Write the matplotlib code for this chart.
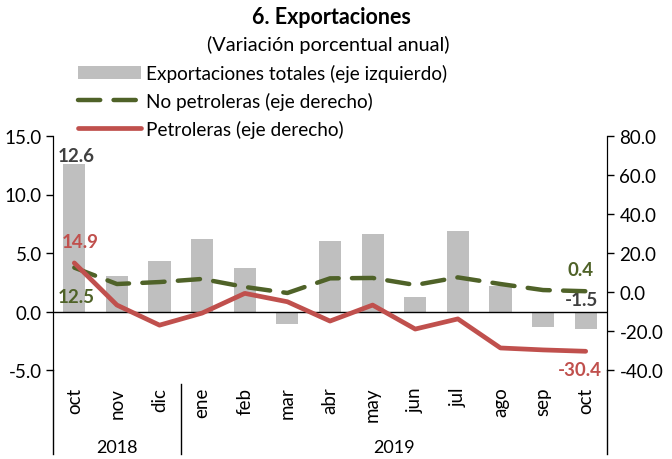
import matplotlib.pyplot as plt
from matplotlib.lines import Line2D
import numpy as np

# data
months = ["oct", "nov", "dic", "ene", "feb", "mar", "abr", "may", "jun", "jul", "ago", "sep", "oct"]
years = ["2018", "2019"]
total = [12.6, 3.0, 4.3, 6.2, 3.7, -1.1, 6.0, 6.6, 1.2, 6.9, 2.2, -1.3, -1.5]
no_petro = [12.5, 4.1, 5.1, 6.7, 2.6, -0.5, 7.0, 7.2, 3.6, 7.5, 4.1, 1.0, 0.4]
petro = [14.9, -6.7, -17.0, -10.8, -0.7, -5.0, -14.9, -6.7, -19.0, -13.8, -28.7, -29.7, -30.4]

GRAY = "#BFBFBF"
GREEN = "#4F6228"
RED = "#C0504D"
DARK = "#404040"

plt.rcParams['font.family'] = ['Lato', 'DejaVu Sans']

fig = plt.figure(figsize=(6.72, 4.6), dpi=100)
ax = fig.add_axes([53/672, 1-371/460, (607-53)/672, 234/460])
ax2 = ax.twinx()

x = np.arange(len(months))
bars = ax.bar(x, total, width=0.52, color=GRAY, label="Exportaciones totales (eje izquierdo)")
ax.axhline(0, color="black", lw=1, zorder=1)
ax.set_ylim(-5, 15)
ax.set_yticks([-5, 0, 5, 10, 15])
ax.set_yticklabels(["%.1f" % v for v in [-5, 0, 5, 10, 15]])
ax.set_xlim(-0.5, len(months) - 0.5)

l1, = ax2.plot(x, no_petro, color=GREEN, lw=3.2, linestyle=(0, (5, 3)),
               dash_capstyle="round", label="No petroleras (eje derecho)")
l2, = ax2.plot(x, petro, color=RED, lw=3.4, solid_capstyle="round",
               label="Petroleras (eje derecho)")
ax2.set_ylim(-40, 80)
ax2.set_yticks(range(-40, 81, 20))
ax2.set_yticklabels(["%.1f" % v for v in range(-40, 81, 20)])

for a in (ax, ax2):
    a.spines["top"].set_visible(False)
    a.spines["bottom"].set_visible(False)
    a.tick_params(axis="y", labelsize=13.5, length=5, width=1)
ax.tick_params(axis="y", direction="out", pad=3)
ax2.tick_params(axis="y", direction="out", pad=4)

ax.set_xticks(x)
ax.set_xticklabels(months, rotation=90, fontsize=13.5)
ax.tick_params(axis="x", length=0, pad=12)

# category separators and years
for xa, y0 in [(0, 0), (3/13, -0.06), (1, 0)]:
    ax.add_line(Line2D([xa, xa], [y0, -0.36], transform=ax.transAxes,
                       color="black", lw=1, clip_on=False))
ax.text(1.5/13, -0.33, years[0], transform=ax.transAxes, ha="center", va="center", fontsize=13)
ax.text(8/13, -0.33, years[1], transform=ax.transAxes, ha="center", va="center", fontsize=13)

# data labels
def lab(a, xi, yi, txt, col, dx, dy):
    a.annotate(txt, (xi, yi), xytext=(dx, -dy), textcoords="offset pixels",
               ha="center", va="center", color=col, fontsize=13.5, fontweight="bold")

lab(ax, 0, total[0], "12.6", DARK, 2, -9)
lab(ax2, 0, petro[0], "14.9", RED, 6, -21)
lab(ax2, 0, no_petro[0], "12.5", GREEN, 2, 29)
lab(ax2, 12, no_petro[-1], "0.4", GREEN, -5, -22)
lab(ax, 12, total[-1], "-1.5", DARK, -4, -30)
lab(ax2, 12, petro[-1], "-30.4", RED, -6, 18)

fig.text(331/672, 1-18/460, "6. Exportaciones", ha="center", va="center",
         fontsize=15.5, fontweight="bold")
fig.text(328/672, 1-45/460, "(Variación porcentual anual)", ha="center", va="center", fontsize=14.3)

fig.legend([bars, l1, l2], [bars.get_label(), l1.get_label(), l2.get_label()],
           loc="upper left", bbox_to_anchor=(78/672, 1-65/460), frameon=False,
           fontsize=13.7, handlelength=3.3, handletextpad=0.3, labelspacing=0.52,
           borderpad=0, borderaxespad=0)

fig.savefig("out.png", dpi=100)
